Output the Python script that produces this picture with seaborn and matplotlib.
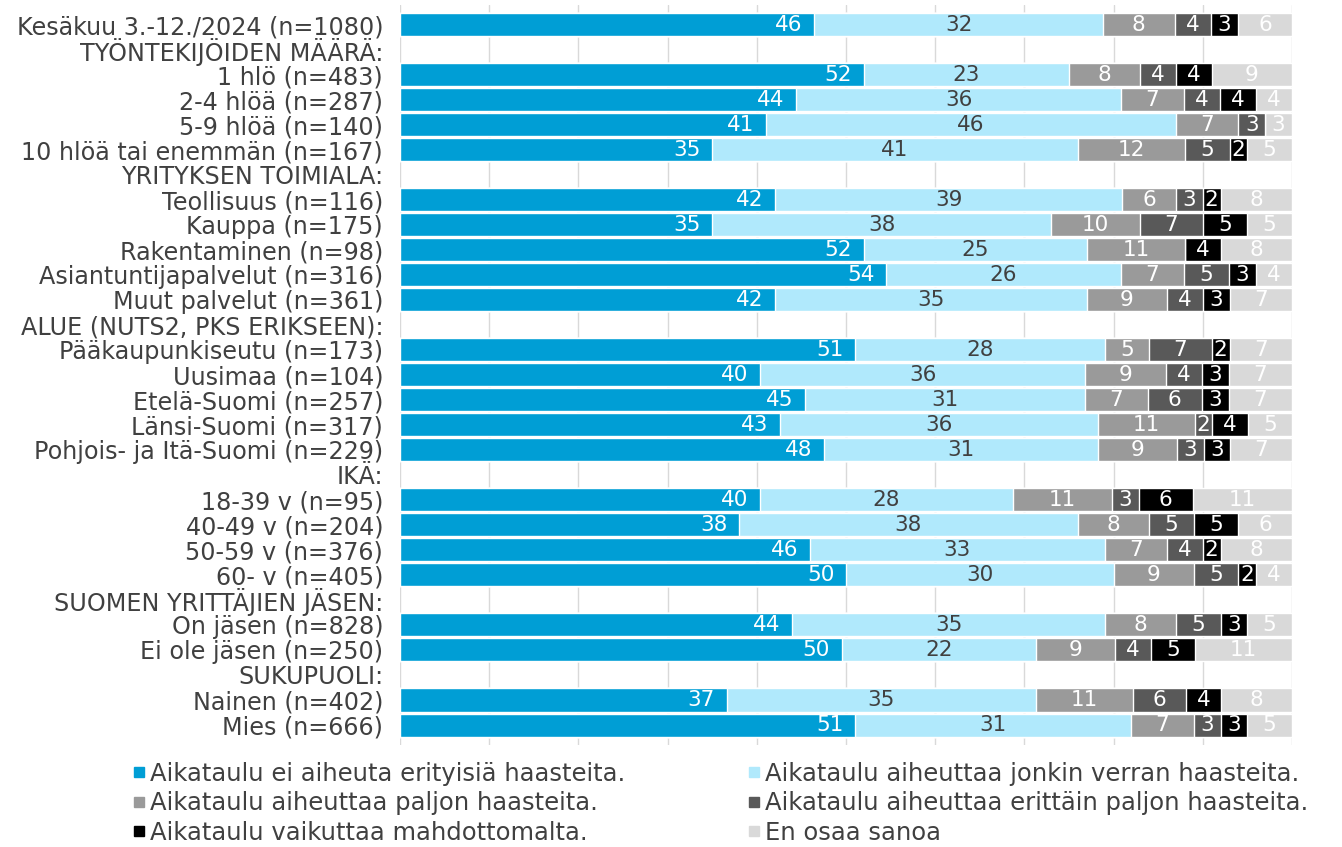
import numpy as np
import pandas as pd
import matplotlib
matplotlib.use("Agg")
import matplotlib.pyplot as plt
from matplotlib.lines import Line2D
import seaborn as sns

# row labels, header rows have no data
labels = [
    "Kesäkuu 3.-12./2024 (n=1080)",
    "TYÖNTEKIJÖIDEN MÄÄRÄ:",
    "1 hlö (n=483)",
    "2-4 hlöä (n=287)",
    "5-9 hlöä (n=140)",
    "10 hlöä tai enemmän (n=167)",
    "YRITYKSEN TOIMIALA:",
    "Teollisuus (n=116)",
    "Kauppa (n=175)",
    "Rakentaminen (n=98)",
    "Asiantuntijapalvelut (n=316)",
    "Muut palvelut (n=361)",
    "ALUE (NUTS2, PKS ERIKSEEN):",
    "Pääkaupunkiseutu (n=173)",
    "Uusimaa (n=104)",
    "Etelä-Suomi (n=257)",
    "Länsi-Suomi (n=317)",
    "Pohjois- ja Itä-Suomi (n=229)",
    "IKÄ:",
    "18-39 v (n=95)",
    "40-49 v (n=204)",
    "50-59 v (n=376)",
    "60- v (n=405)",
    "SUOMEN YRITTÄJIEN JÄSEN:",
    "On jäsen (n=828)",
    "Ei ole jäsen (n=250)",
    "SUKUPUOLI:",
    "Nainen (n=402)",
    "Mies (n=666)",
]
headers = ["TYÖNTEKIJÖIDEN MÄÄRÄ:", "YRITYKSEN TOIMIALA:", "ALUE (NUTS2, PKS ERIKSEEN):",
           "IKÄ:", "SUOMEN YRITTÄJIEN JÄSEN:", "SUKUPUOLI:"]
data_labels = [l for l in labels if l not in headers]

ei_haasteita = [46, 52, 44, 41, 35, 42, 35, 52, 54, 42, 51, 40, 45, 43, 48, 40, 38, 46, 50, 44, 50, 37, 51]
jonkin_verran = [32, 23, 36, 46, 41, 39, 38, 25, 26, 35, 28, 36, 31, 36, 31, 28, 38, 33, 30, 35, 22, 35, 31]
paljon = [8, 8, 7, 7, 12, 6, 10, 11, 7, 9, 5, 9, 7, 11, 9, 11, 8, 7, 9, 8, 9, 11, 7]
erittain_paljon = [4, 4, 4, 3, 5, 3, 7, 0, 5, 4, 7, 4, 6, 2, 3, 3, 5, 4, 5, 5, 4, 6, 3]
mahdoton = [3, 4, 4, 0, 2, 2, 5, 4, 3, 3, 2, 3, 3, 4, 3, 6, 5, 2, 2, 3, 5, 4, 3]
eos = [6, 9, 4, 3, 5, 8, 5, 8, 4, 7, 7, 7, 7, 5, 7, 11, 6, 8, 4, 5, 11, 8, 5]

series_names = [
    "Aikataulu ei aiheuta erityisiä haasteita.",
    "Aikataulu aiheuttaa jonkin verran haasteita.",
    "Aikataulu aiheuttaa paljon haasteita.",
    "Aikataulu aiheuttaa erittäin paljon haasteita.",
    "Aikataulu vaikuttaa mahdottomalta.",
    "En osaa sanoa",
]
colors = ["#009ed5", "#b0e9fc", "#9a9a9a", "#595959", "#000000", "#d9d9d9"]
text_colors = ["white", "#404040", "white", "white", "white", "white"]

vals = np.array([ei_haasteita, jonkin_verran, paljon, erittain_paljon, mahdoton, eos], dtype=float).T
shares = vals / vals.sum(axis=1, keepdims=True) * 100
cum = np.cumsum(shares, axis=1)

df = pd.DataFrame(cum, columns=[f"c{i}" for i in range(6)])
df["label"] = data_labels

sns.set_style("white")
plt.rcParams["font.family"] = ["DejaVu Sans"]

fig = plt.figure(figsize=(13.42, 8.47), dpi=100)
ax = fig.add_axes([0.298, 0.1204, 0.6647, 0.874])

for x in range(0, 101, 10):
    ax.axvline(x, color="#d9d9d9", lw=1, zorder=0)

# draw cumulative layers from the full bar down to the first segment
for i in range(5, -1, -1):
    sns.barplot(data=df, x=f"c{i}", y="label", order=labels, orient="h",
                color=colors[i], saturation=1, width=0.92, errorbar=None,
                edgecolor="white", linewidth=1, ax=ax, zorder=2)

pos = {l: k for k, l in enumerate(labels)}
for r, l in enumerate(data_labels):
    for i in range(6):
        if vals[r, i] == 0:
            continue
        if i == 0:
            # first segment label sits at the inner end
            ax.text(cum[r, 0] - 1.3, pos[l], f"{int(vals[r, i])}", ha="right", va="center",
                    fontsize=15.5, color=text_colors[i], zorder=3)
        else:
            left = cum[r, i] - shares[r, i]
            ax.text(left + shares[r, i] / 2, pos[l], f"{int(vals[r, i])}", ha="center", va="center",
                    fontsize=15.5, color=text_colors[i], zorder=3)

ax.set_xlim(0, 100)
ax.set_ylim(len(labels) - 0.2, -0.8)
ax.set_xlabel("")
ax.set_ylabel("")
ax.set_xticks([])
ax.tick_params(axis="y", length=0, labelsize=17.2, labelcolor="#404040", pad=12)
for s in ax.spines.values():
    s.set_visible(False)

order_idx = [0, 2, 4, 1, 3, 5]
handles = [Line2D([], [], marker="s", ls="none", color=colors[i], markersize=7) for i in order_idx]
fig.legend(handles, [series_names[i] for i in order_idx], ncol=2, loc="upper left",
           bbox_to_anchor=(0.0792, 0.1263), frameon=False, fontsize=17.5, labelcolor="#404040",
           handletextpad=0.0, handlelength=0.9, columnspacing=4.86, labelspacing=0.22)

fig.savefig("out.png", dpi=100)
